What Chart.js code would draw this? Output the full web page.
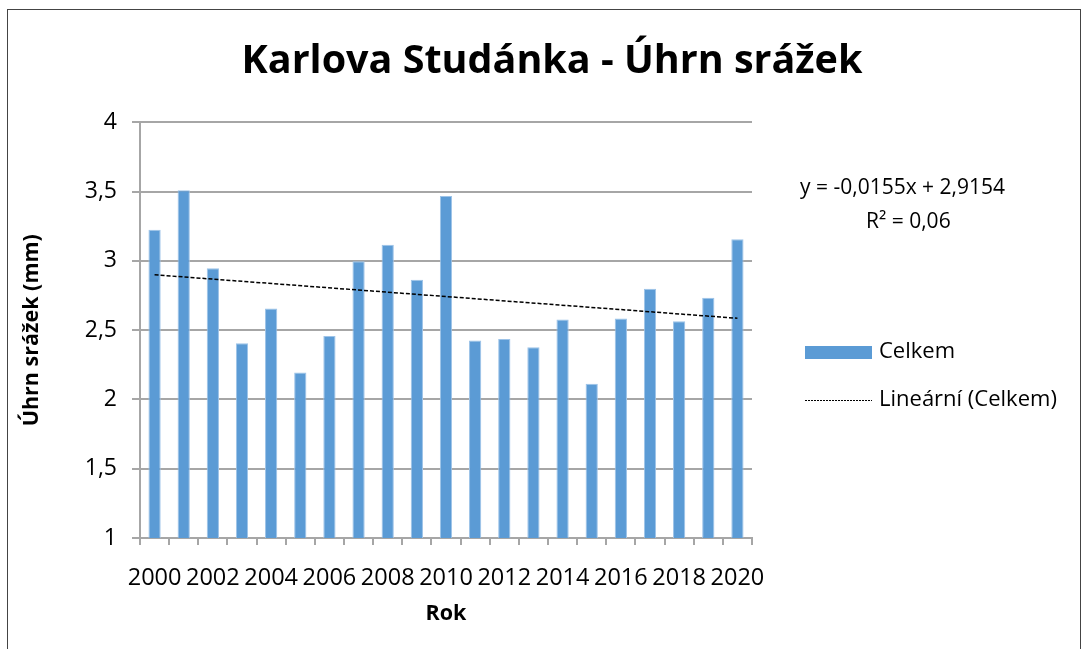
<!DOCTYPE html>
<html>
<head>
<meta charset="utf-8">
<script src="https://cdn.jsdelivr.net/npm/chart.js@4"></script>
<style>
  body { margin: 0; background: #fff; }
  #wrap { position: relative; width: 1086px; height: 649px; overflow: hidden; }
  #frame { position: absolute; left: 7px; top: 9px; width: 1072px; height: 700px; border: 1.5px solid #444; }
  canvas { position: absolute; left: 0; top: 0; }
</style>
</head>
<body>
<div id="wrap">
  <div id="frame"></div>
  <canvas id="rainChart" width="1086" height="649"></canvas>
</div>
<script>
// categories
const years = ['2000','2001','2002','2003','2004','2005','2006','2007','2008','2009','2010',
               '2011','2012','2013','2014','2015','2016','2017','2018','2019','2020'];
// Celkem - annual values
const totals = [3.225, 3.51, 2.947, 2.406, 2.657, 2.194, 2.459, 2.998, 3.116, 2.865, 3.469,
                2.425, 2.437, 2.377, 2.578, 2.114, 2.585, 2.80, 2.565, 2.735, 3.157];
// linear trend, end points as drawn
const trendYears = ['2000', '2020'];
const trendValues = [2.90, 2.586];
// y axis ticks
const yTicks = [1, 1.5, 2, 2.5, 3, 3.5, 4];

const FONT = 'Open Sans';
const gridGray = '#a6a6a6';

// legend + equation, drawn by hand to sit where Excel put them
const sideLegend = {
    id: 'sideLegend',
    afterDraw(chart) {
        const ctx = chart.ctx;
        ctx.save();
        ctx.fillStyle = '#000';
        ctx.textBaseline = 'middle';
        ctx.textAlign = 'left';
        ctx.font = '21px "' + FONT + '"';
        ctx.fillText('y = -0,0155x + 2,9154', 800, 188);
        ctx.fillText('R² = 0,06', 866, 222);

        ctx.font = '22px "' + FONT + '"';
        // Celkem
        ctx.fillStyle = '#5b9bd5';
        ctx.fillRect(805, 346, 67, 13);
        ctx.fillStyle = '#000';
        ctx.fillText('Celkem', 879, 352);

        // Lineární (Celkem)
        ctx.strokeStyle = '#000';
        ctx.lineWidth = 1;
        ctx.setLineDash([2, 1]);
        ctx.beginPath();
        ctx.moveTo(805, 400.5);
        ctx.lineTo(872, 400.5);
        ctx.stroke();
        ctx.setLineDash([]);
        ctx.fillText('Lineární (Celkem)', 879, 400);
        ctx.restore();
    }
};

const ctx = document.getElementById('rainChart').getContext('2d');
new Chart(ctx, {
    data: {
        labels: years,
        datasets: [
            {
                type: 'line',
                label: 'Lineární (Celkem)',
                data: trendYears.map((y, i) => ({ x: y, y: trendValues[i] })),
                borderColor: '#000',
                borderWidth: 1.5,
                borderDash: [4, 2],
                pointRadius: 0,
                fill: false,
                order: 0
            },
            {
                type: 'bar',
                label: 'Celkem',
                data: totals,
                backgroundColor: '#5b9bd5',
                borderColor: '#9dc3e8',
                borderWidth: 1,
                categoryPercentage: 1,
                barPercentage: 0.42,
                order: 1
            }
        ]
    },
    options: {
        responsive: false,
        animation: false,
        layout: { padding: { left: 18, right: 0, top: 0, bottom: 12 } },
        plugins: {
            legend: { display: false },
            tooltip: { enabled: false },
            title: {
                display: true,
                text: 'Karlova Studánka - Úhrn srážek',
                color: '#000',
                font: { family: FONT, size: 39.5, weight: 'bold' },
                padding: { top: 38, bottom: 37 }
            }
        },
        scales: {
            x: {
                type: 'category',
                offset: true,
                grid: {
                    display: true,
                    drawOnChartArea: false,
                    offset: true,
                    color: gridGray,
                    lineWidth: 2,
                    tickLength: 7
                },
                border: { color: gridGray, width: 2 },
                ticks: {
                    autoSkip: false,
                    maxRotation: 0,
                    color: '#000',
                    padding: 19,
                    font: { family: FONT, size: 23.5 },
                    callback: (v, i) => (i % 2 === 0 ? years[i] : '')
                },
                title: {
                    display: true,
                    text: 'Rok',
                    color: '#000',
                    font: { family: FONT, size: 21.5, weight: 'bold' },
                    padding: { top: 10, bottom: 10 }
                },
                afterFit: s => { s.height = 99; }
            },
            y: {
                position: 'left',
                min: 1,
                max: 4,
                afterBuildTicks: s => { s.ticks = yTicks.map(v => ({ value: v })); },
                grid: { color: gridGray, lineWidth: 2, tickLength: 8 },
                border: { color: gridGray, width: 2 },
                ticks: {
                    color: '#000',
                    padding: 15,
                    font: { family: FONT, size: 23 },
                    callback: v => String(v).replace('.', ',')
                },
                title: {
                    display: true,
                    text: 'Úhrn srážek (mm)',
                    color: '#000',
                    font: { family: FONT, size: 21.5, weight: 'bold' },
                    padding: { top: 1, bottom: 1 }
                },
                afterFit: s => { s.width = 122; }
            },
            side: {
                position: 'right',
                min: 0,
                max: 1,
                grid: { display: false },
                border: { display: false },
                ticks: { display: false },
                afterFit: s => { s.width = 334; }
            }
        }
    },
    plugins: [sideLegend]
});
</script>
</body>
</html>
